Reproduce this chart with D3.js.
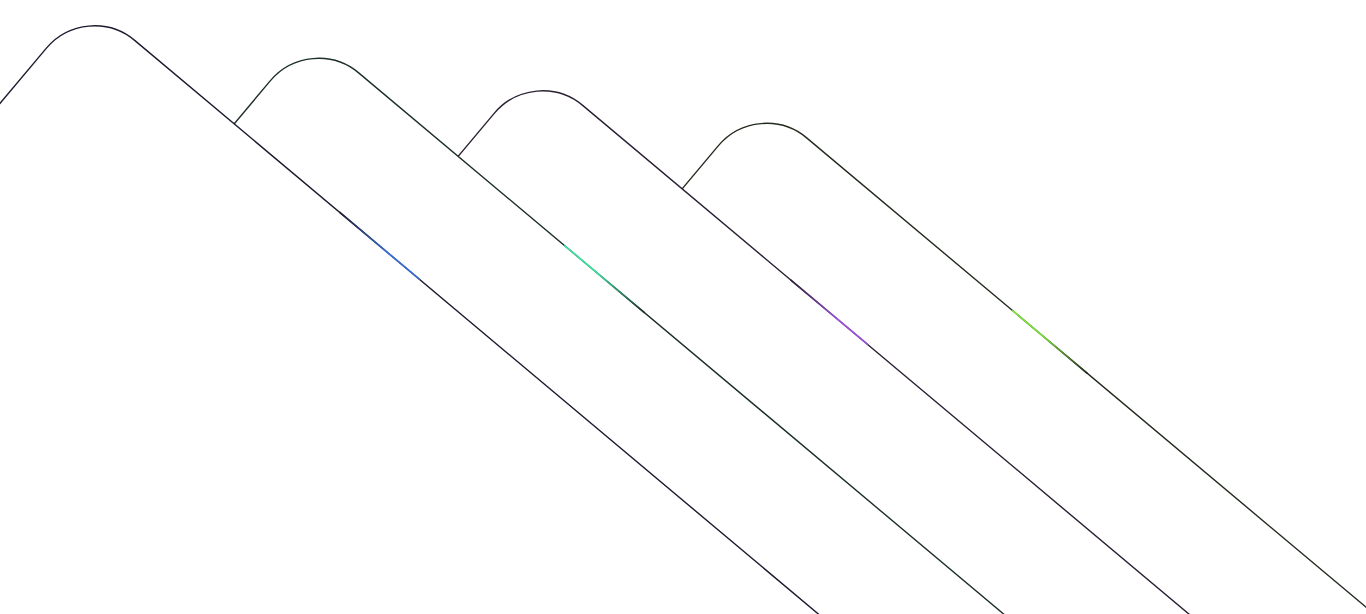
<!DOCTYPE html>
<html>
<head>
<meta charset="utf-8">
<script src="https://cdn.jsdelivr.net/npm/d3@7"></script>
<style>
html,body{margin:0;padding:0;background:#ffffff;overflow:hidden;}
svg{display:block;}
</style>
</head>
<body>
<svg id="chart" width="1366" height="614"></svg>
<script>
// ---- data ----
const cards = ["card1", "card2", "card3", "card4"];
const strokeColors = ["#1b1b2e", "#1d2f27", "#2a1f33", "#232b1e"];
const glowColors = ["#3a6fd8", "#3ee3a2", "#9d52dc", "#7fe83a"];
const glowStart = [330, 331, 334, 331];
const glowEnd = [435, 436, 435, 429];
const glowBrightAtEnd = [true, false, true, false];

// ---- layout ----
const W = 1366, H = 614;
const angle = 40;
const cardW = 1500, cardH = 1500, radius = 63;

const xPos = d3.scaleLinear().domain([0, cards.length - 1]).range([86.7, 758.7]);
const yPos = d3.scaleLinear().domain([0, cards.length - 1]).range([0.1, 97.6]);
const along = d3.scaleLinear().domain([0, cardW]).range([0, cardW]);

const svg = d3.select("#chart");
const defs = svg.append("defs");

defs.append("filter").attr("id", "blur")
  .attr("x", "-50%").attr("y", "-50%").attr("width", "200%").attr("height", "200%")
  .append("feGaussianBlur").attr("stdDeviation", 2);

cards.forEach((c, i) => {
  const g = defs.append("linearGradient")
    .attr("id", "grad" + i)
    .attr("gradientUnits", "userSpaceOnUse")
    .attr("x1", along(glowStart[i])).attr("y1", 0)
    .attr("x2", along(glowEnd[i])).attr("y2", 0);
  const stops = glowBrightAtEnd[i]
    ? [[0, strokeColors[i]], [0.6, glowColors[i]], [1, glowColors[i]]]
    : [[0, glowColors[i]], [0.4, glowColors[i]], [1, strokeColors[i]]];
  stops.forEach(s => g.append("stop").attr("offset", s[0]).attr("stop-color", s[1]));
});

const order = d3.range(cards.length).reverse(); // back cards first

const groups = svg.selectAll("g.card")
  .data(order)
  .join("g")
  .attr("class", "card")
  .attr("transform", i => `translate(${xPos(i)},${yPos(i)}) rotate(${angle})`);

groups.append("rect")
  .attr("x", 0).attr("y", 0)
  .attr("width", cardW).attr("height", cardH)
  .attr("rx", radius).attr("ry", radius)
  .attr("fill", "#ffffff")
  .attr("stroke", i => strokeColors[i])
  .attr("stroke-width", 1.4);

// soft halo
groups.append("line")
  .attr("x1", i => along(glowStart[i])).attr("x2", i => along(glowEnd[i]))
  .attr("y1", 0).attr("y2", 0)
  .attr("stroke", i => `url(#grad${i})`)
  .attr("stroke-width", 3)
  .attr("stroke-opacity", 0.45)
  .attr("filter", "url(#blur)");

// glowing edge segment
groups.append("line")
  .attr("x1", i => along(glowStart[i])).attr("x2", i => along(glowEnd[i]))
  .attr("y1", 0).attr("y2", 0)
  .attr("stroke", i => `url(#grad${i})`)
  .attr("stroke-width", 1.7);
</script>
</body>
</html>
